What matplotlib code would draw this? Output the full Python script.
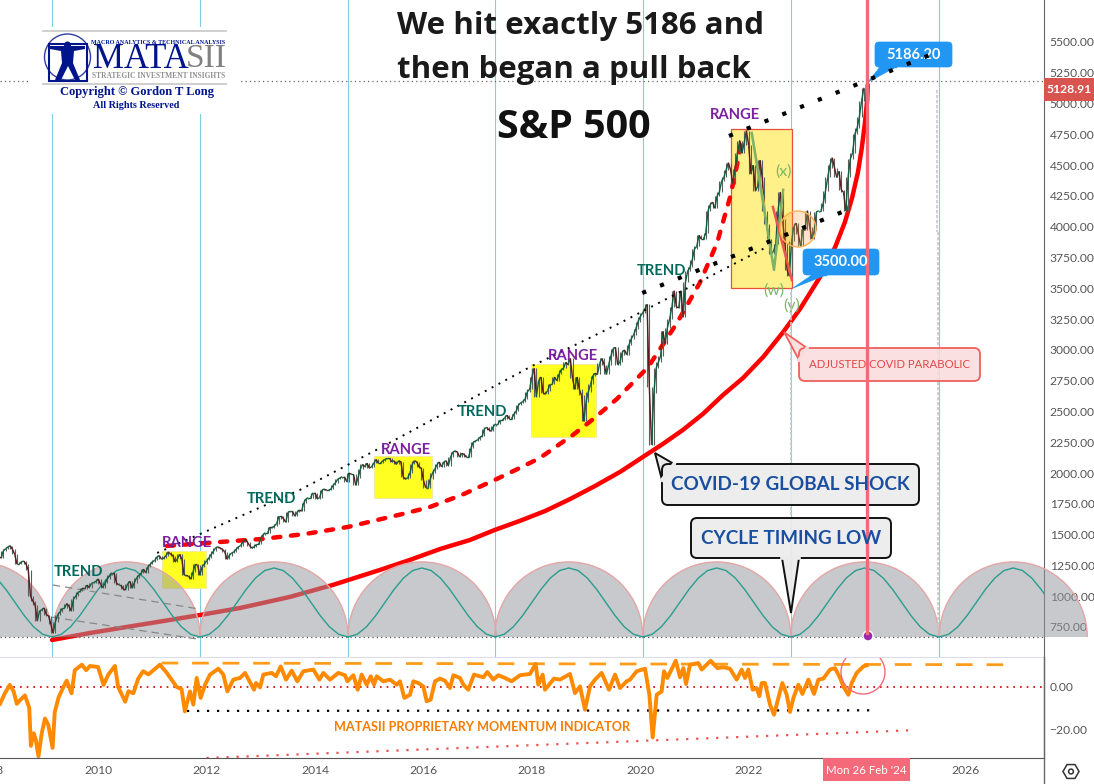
import matplotlib
matplotlib.use('Agg')
import matplotlib.pyplot as plt
from matplotlib.patches import Ellipse, Rectangle, Circle, Polygon, FancyBboxPatch, RegularPolygon
from matplotlib.collections import LineCollection
import numpy as np

# half-monthly S&P 500 closes, Mar 2008 to Feb 2024
closes = [
    1320,1310,1370,1385,1400,1410,1380,1340,1260,1260,1280,1285,1260,1210,1000,960,930,800,880,890,
    905,850,840,770,700,790,850,870,900,900,940,920,880,975,1000,1030,1040,1065,1060,1090,1070,1105,1110,1120,
    1140,1095,1070,1105,1140,1170,1190,1190,1110,1090,1090,1060,1050,1100,1120,1065,1110,1150,1170,1185,1220,1190,1240,1258,
    1280,1290,1320,1330,1300,1310,1330,1360,1340,1330,1280,1300,1340,1300,1170,1170,1160,1140,1200,1260,1250,1170,1240,1260,
    1290,1310,1340,1365,1395,1400,1390,1380,1360,1300,1330,1350,1360,1380,1400,1410,1440,1460,1440,1410,1390,1400,1420,1420,
    1470,1500,1515,1515,1560,1555,1570,1590,1650,1650,1630,1600,1680,1690,1690,1650,1680,1700,1690,1760,1790,1800,1800,1840,
    1840,1790,1800,1860,1870,1860,1860,1870,1900,1920,1950,1960,1970,1970,1930,2000,1990,1990,1900,1960,2030,2070,2050,2080,
    2040,2050,2080,2110,2080,2080,2100,2110,2120,2120,2090,2100,2070,2100,2090,1970,1950,1960,2000,2070,2100,2090,2050,2040,
    1940,1880,1880,1950,2000,2030,2070,2090,2050,2090,2100,2060,2130,2170,2180,2170,2130,2160,2150,2130,2130,2200,2250,2260,
    2270,2290,2300,2360,2370,2350,2340,2380,2400,2400,2430,2430,2450,2470,2440,2440,2480,2500,2550,2570,2580,2600,2660,2680,
    2780,2850,2620,2750,2780,2650,2640,2670,2720,2720,2780,2750,2800,2840,2850,2900,2880,2930,2770,2680,2780,2680,2630,2420,
    2580,2660,2720,2790,2810,2800,2890,2930,2880,2800,2880,2950,3010,3020,2880,2900,2980,3000,2960,3040,3090,3120,3170,3230,
    3270,3300,3330,3370,2700,2230,2650,2850,2900,2950,3150,3050,3180,3250,3350,3480,3350,3340,3480,3270,3550,3640,3670,3730,
    3820,3840,3930,3900,3900,3950,4130,4180,4200,4150,4250,4280,4370,4400,4460,4520,4460,4350,4470,4600,4700,4600,4680,4780,
    4660,4430,4500,4290,4330,4540,4400,4130,4020,3900,3780,3800,3860,4130,4280,4060,3870,3650,3600,3880,4000,4030,3940,3840,
    3980,3970,4130,4000,3900,3970,4120,4130,4130,4190,4290,4400,4500,4560,4480,4400,4450,4300,4280,4130,4400,4550,4600,4750,
    4800,4890,5020,5128,
]
close_start = 2008.17
closes_per_year = 24

mom_years = [
    2008.19,2008.28,2008.37,2008.44,2008.50,2008.57,2008.65,2008.73,2008.76,2008.81,2008.85,2008.90,2008.96,2009.02,2009.08,2009.16,
    2009.20,2009.27,2009.36,2009.42,2009.51,2009.57,2009.70,2009.78,2009.85,2010.00,2010.10,2010.19,2010.31,2010.37,2010.50,2010.56,
    2010.65,2010.74,2010.83,2010.93,2011.14,2011.26,2011.45,2011.54,2011.60,
    2011.696,2011.757,2011.819,2011.893,2011.973,2012.065,2012.219,2012.311,2012.385,2012.495,2012.619,2012.711,2012.877,2012.914,2012.988,
    2013.049,2013.203,2013.283,2013.369,2013.467,2013.572,2013.676,2013.787,2013.972,2014.082,2014.156,2014.279,2014.433,2014.556,2014.599,
    2014.710,2014.79,2014.863,2014.956,2015.03,2015.091,2015.14,2015.263,2015.386,2015.509,2015.571,2015.65,2015.755,
    2015.816,2015.908,2016.0,2016.062,2016.136,2016.216,2016.308,2016.4,2016.493,2016.554,2016.677,2016.739,2016.831,2016.935,
    2017.108,2017.181,2017.292,2017.384,2017.507,2017.63,2017.784,2017.968,2018.073,2018.122,2018.202,2018.245,2018.411,2018.522,
    2018.706,2018.799,2018.891,2018.983,2019.076,2019.168,2019.291,2019.426,2019.537,2019.629,2019.752,
    2019.814,2019.937,2020.091,2020.171,2020.232,2020.306,2020.398,2020.441,2020.503,2020.657,2020.737,2020.798,2020.847,2020.921,
    2021.075,2021.136,2021.302,2021.425,2021.536,2021.659,2021.782,2021.874,2021.936,2021.997,2022.077,2022.151,2022.2,2022.243,
    2022.305,2022.397,2022.471,2022.551,2022.625,2022.705,2022.766,2022.828,2022.92,2022.994,2023.104,2023.209,2023.289,2023.381,
    2023.504,2023.596,2023.689,2023.75,2023.842,2023.904,2023.996,2024.119,2024.18,
]
mom_values = [
    -8,-3,1,-2,-8,-6,-4,-10,-28,-22,-25,-33,-22,-15,-18,-29,
    -12,-5,0,3,-3,8,10.6,8,10,9.5,1,6,10,0,-7,-2,
    -3,4,7.5,6,10.6,7,0,-1,-11.6,
    -2.1,-8.4,4.3,-5.2,1.1,5.9,8.7,5.9,-2.1,3.5,4.3,6.7,-1.3,1.9,-0.2,
    5.9,6.7,5.1,9.8,3.5,7.8,2.7,7.5,8.3,3.5,6.7,3.5,6.7,5.6,2.7,
    5.6,-1.3,5.9,1.1,5.1,1.1,5.1,2.7,3.5,1.1,2.7,-5.2,-3.7,
    2.7,1.9,0.3,-6.8,-6,2.7,4,3,-0.5,5.6,4.3,1.1,-1.3,5.9,
    4.6,7.1,3.5,5.6,4.3,2.7,5.6,6.2,11,1.1,5.9,-1.3,4,3.5,
    6.2,-2.9,0.3,-10.8,0.3,3.5,6.7,-1.3,5.9,-0.5,2.7,
    3.5,7.5,8.7,-3.7,-24,-3.7,-2.1,7.5,4.3,12.5,4.6,9,1.4,10.6,
    11.4,8.3,12.5,9,9.4,8.7,3.5,8.3,4.3,8.3,-1.3,-0.5,-4.4,1.9,
    1.9,-8.4,-13.2,-5.2,1.9,-3.7,-11.9,-5.2,1.1,-3.3,3.5,-3.3,3.5,4,
    8.3,9,4.3,0.3,-3.7,1.9,6.7,9.8,10.3,
]

cycle_lows = [2006.42, 2009.15, 2011.88, 2014.61, 2017.32, 2020.05, 2022.78, 2025.52]
cycle_base = 669
dome_top = 1278
# one cycle of the teal wave, read at 1/16 steps
wave_shape = [669,690,751,842,949,1056,1147,1208,1229,1208,1147,1056,949,842,751,690,669]

parabola_years = [2009.15,2009.85,2010.64,2011.33,2011.88,2012.62,2013.54,2014.33,2015.2,2015.75,2016.31,2016.86,2017.32,2017.78,
                  2018.25,2018.71,2019.17,2019.63,2020.05,2020.42,2020.79,2021.16,2021.53,2021.9,2022.27,2022.64,2022.95,
                  2023.32,2023.6,2023.78,2023.91,2024.02,2024.09,2024.15,2024.19,2024.2]
parabola_values = [644,701,758,807,847,904,994,1091,1213,1294,1383,1456,1538,1611,
                   1692,1789,1895,2009,2130,2236,2350,2480,2634,2772,2942,3145,3332,
                   3592,3836,4039,4233,4444,4639,4851,5029,5151]
dashed_years = [2011.27,2012.25,2013.04,2013.82,2014.61,2015.7,2016.12,2016.71,2017.32,2017.78,2018.15,2018.52,2018.76,2019.16,2019.57,2020.15,2020.68,2021.1,2021.42,2021.66,2021.9]
dashed_values = [1408,1440,1465,1505,1562,1676,1724,1822,1944,2041,2122,2236,2309,2447,2601,2861,3218,3543,3868,4241,4729]
trend_years = [2011.09,2013.72,2015.2,2017.97,2019.63,2022.34]
trend_values = [1351,1862,2203,2861,3218,3836]
channel_low_years = [2020.04,2023.73]
channel_low_values = [3462,4120]
channel_high_years = [2021.64,2025.35]
channel_high_values = [4737,5395]

range_boxes = [(2011.17,2011.985,1069,1367),(2015.09,2016.16,1797,2138),(2017.99,2019.19,2293,2886)]
range_box_big = (2021.68,2022.80,3503,4794)

price_ticks = [5500,5250,5000,4750,4500,4250,4000,3750,3500,3250,3000,2750,2500,2250,2000,1750,1500,1250,1000,750]
year_ticks = [2008,2010,2012,2014,2016,2018,2020,2022,2024,2026]
mom_ticks = [0,-20]

W, H = 1094, 784
XMIN, XMAX = 2008.19, 2008.19 + 1044 / 54.2
plt.rcParams['font.family'] = ['Lato', 'DejaVu Sans']

fig = plt.figure(figsize=(W / 100, H / 100), dpi=100)
ax = fig.add_axes([0, (H - 657) / H, 1044 / W, 657 / H])
ind = fig.add_axes([0, (H - 758) / H, 1044 / W, 100 / H])
top = fig.add_axes([0, 0, 1, 1], facecolor='none')
top.set_xlim(0, W)
top.set_ylim(H, 0)
top.axis('off')

ax.set_xlim(XMIN, XMAX)
ax.set_ylim(506, 5841)
ind.set_xlim(XMIN, XMAX)
ind.set_ylim(-33.8, 13.8)

tick_col = '#555555'
for a in (ax, ind):
    a.yaxis.tick_right()
    a.set_xticks([])
    a.tick_params(axis='y', length=0, pad=4, labelsize=8.7, labelcolor=tick_col)
    a.spines['left'].set_visible(False)
    a.spines['top'].set_visible(False)
    a.spines['right'].set_color('#666666')
ax.spines['bottom'].set_color('#dcdce8')
ind.spines['bottom'].set_color('#555555')
ax.set_yticks(price_ticks)
ax.set_yticklabels(['%.2f' % v for v in price_ticks])
ind.set_yticks(mom_ticks)
ind.set_yticklabels(['0.00', '\u221220.00'])

for y in year_ticks:
    ind.text(y, -0.13, str(y), transform=ind.get_xaxis_transform(), ha='center', va='center',
             fontsize=8.7, color=tick_col, clip_on=False)

# cycle verticals
for lo in cycle_lows[1:]:
    ax.axvline(lo, color='#7fd0dc', lw=0.8, zorder=1)

# range boxes
for x0, x1, y0, y1 in range_boxes:
    ax.add_patch(Rectangle((x0, y0), x1 - x0, y1 - y0, fc='#ffff22', ec='#f5e6a0', lw=0.6, zorder=1.5))
x0, x1, y0, y1 = range_box_big
ax.add_patch(Rectangle((x0, y0), x1 - x0, y1 - y0, fc='#fff08a', ec='#e8503a', lw=0.9, zorder=1.5))

# parabolas
ax.plot(parabola_years, parabola_values, color='#ff0000', lw=3.2, zorder=2, solid_capstyle='round', solid_joinstyle='round')
ax.plot(dashed_years, dashed_values, color='#ff0000', lw=3.2, ls=(0, (1.6, 2.4)), dash_capstyle='round', zorder=2)

# domes and wave
period = cycle_lows[2] - cycle_lows[1]
clip = Rectangle((XMIN - 5, cycle_base), 30, 4000, transform=ax.transData)
for lo in cycle_lows:
    e = Ellipse((lo + period / 2, cycle_base), period, 2 * (dome_top - cycle_base),
                fc=(0.59, 0.6, 0.635, 0.53), ec='#e4a6a6', lw=1, zorder=3)
    ax.add_patch(e)
    e.set_clip_path(clip)
    xs = lo + np.arange(len(wave_shape)) / (len(wave_shape) - 1) * period
    ax.plot(xs, wave_shape, color='#2a9d8f', lw=1.0, zorder=3.2)

# level lines
ax.axhline(cycle_base, color='#555555', lw=0.9, ls=(0, (1, 2.5)), zorder=3.1)
ax.axhline(5183, color='#666666', lw=0.9, ls=(0, (1, 2.5)), zorder=1)
ax.plot([2009.16, 2011.86], [1091, 896], color='#888888', lw=0.9, ls=(0, (6, 4)), zorder=3.3)
ax.plot([2009.16, 2011.86], [829, 650], color='#888888', lw=0.9, ls=(0, (6, 4)), zorder=3.3)

# price, drawn as thin up/down strokes with wicks
close_years = close_start + np.arange(len(closes)) / closes_per_year
c = np.array(closes, dtype=float)
lows = np.minimum(np.minimum(c, np.r_[c[0], c[:-1]]), np.r_[c[1:], c[-1]])
highs = np.maximum(np.maximum(c, np.r_[c[0], c[:-1]]), np.r_[c[1:], c[-1]])
ax.vlines(close_years, lows, highs, color='#5a5f60', lw=0.8, zorder=4)
segs = np.stack([np.c_[close_years[:-1], c[:-1]], np.c_[close_years[1:], c[1:]]], axis=1)
cols = ['#0c5f3c' if b >= a else '#5c1a1a' for a, b in zip(c[:-1], c[1:])]
ax.add_collection(LineCollection(segs, colors=cols, lw=1.0, zorder=4.2))

# trend lines
ax.plot(trend_years, trend_values, color='black', lw=1.4, ls=(0, (1, 3)), zorder=5)
top.plot(channel_low_years, channel_low_values, color='black', lw=3, ls=(0, (1, 3.6)), zorder=6.5, transform=ax.transData)
top.plot(channel_high_years, channel_high_values, color='black', lw=3, ls=(0, (1, 3.6)), zorder=6.5, transform=ax.transData)

# wave count
ax.plot([2022.06, 2022.47, 2022.64], [4761, 3649, 4300], color='#7cb368', lw=1.8, zorder=5)
ax.plot([2022.45, 2022.8], [4160, 3567], color='#ef5350', lw=1.8, zorder=5)
ax.plot([2022.06, 2022.3], [4761, 4150], color='#f5b942', lw=1.5, zorder=4.9)

# indicator
ind.axhline(0, color='#cc0000', lw=1.2, ls=(0, (1, 3)))
ind.plot(mom_years, mom_values, color='#ff8a00', lw=2.8, zorder=3)
ind.plot([2011.17, 2026.75], [11.4, 10.6], color='#ff9d1a', lw=2, ls=(0, (6, 5)), zorder=2)
ind.plot([2011.64, 2024.3], [-11.4, -11.1], color='black', lw=1.6, ls=(0, (1, 3.5)), zorder=2)
ind.plot([2012.0, 2025.0], [-33.8, -20.6], color='#f05050', lw=1.6, ls=(0, (1, 3.5)), zorder=2)

# --- annotations, in pixel coordinates on the overlay ---
title_font = ['Open Sans', 'DejaVu Sans']
top.text(397, 26, 'We hit exactly 5186 and', fontsize=22.5, fontweight='bold', family=title_font, color='#1a1a1a', va='center')
top.text(397, 70, 'then began a pull back', fontsize=22.5, fontweight='bold', family=title_font, color='#1a1a1a', va='center')
top.text(574, 127, 'S&P 500', fontsize=28.4, fontweight='bold', family=title_font, color='#111111', va='center', ha='center')

for x, y, s in [(187, 543, 'RANGE'), (406, 450, 'RANGE'), (573, 356, 'RANGE'), (735, 115, 'RANGE')]:
    top.text(x, y, s, color='#7b1fa2', fontsize=10.6, ha='center', va='center', fontweight='bold')
for x, y, s in [(78, 572, 'TREND'), (271, 499, 'TREND'), (482, 412, 'TREND'), (661, 271, 'TREND')]:
    top.text(x, y, s, color='#00695c', fontsize=10.6, ha='center', va='center', fontweight='bold')
for x, y, s in [(783, 172, '(x)'), (774, 291, '(w)'), (792, 305, '(y)')]:
    top.text(x, y, s, color='#7cb368', fontsize=11.5, ha='center', va='center')
top.text(482, 727, 'MATASII PROPRIETARY MOMENTUM INDICATOR', color='#f57c00', fontsize=9.1,
         ha='center', va='center', fontweight='bold')

def callout(box, tail, fc, ec, lw, text, tcol, size, weight='bold', rad=4):
    x0, y0, x1, y1 = box
    top.add_patch(Polygon(tail, closed=True, fc=fc, ec=ec, lw=lw, zorder=6))
    top.add_patch(FancyBboxPatch((x0 + rad, y0 + rad), x1 - x0 - 2 * rad, y1 - y0 - 2 * rad,
                                 boxstyle='round,pad=%d,rounding_size=%d' % (rad, rad),
                                 fc=fc, ec=ec, lw=lw, zorder=6.1))
    top.plot([tail[0][0], tail[-1][0]], [tail[0][1], tail[-1][1]], color=fc[:3] if len(fc) == 4 else fc, lw=lw + 1.2, zorder=6.15)
    top.text((x0 + x1) / 2, (y0 + y1) / 2, text, color=tcol, fontsize=size, fontweight=weight,
             ha='center', va='center', zorder=6.4)

callout((875, 42, 952, 67), [(880, 67), (868, 82), (896, 67)], '#2196f3', '#2196f3', 0.5, '5186.20', 'white', 10.5)
callout((803, 249, 879, 275), [(812, 275), (793, 288), (826, 275)], '#2196f3', '#2196f3', 0.5, '3500.00', 'white', 10.5)
callout((799, 348, 980, 381), [(799, 360), (784, 332), (807, 348)], (0.98, 0.86, 0.86, 0.85), '#f0605a', 1.3,
        'ADJUSTED COVID PARABOLIC', '#e04848', 8.2, weight='normal', rad=6)
callout((662, 464, 919, 505), [(662, 480), (655, 453), (674, 464)], (0.92, 0.92, 0.92, 0.9), '#111111', 1.4,
        'COVID-19 GLOBAL SHOCK', '#1a4fa0', 13.6, rad=6)
callout((691, 518, 891, 558), [(782, 558), (791, 613), (799, 558)], (0.92, 0.92, 0.92, 0.9), '#111111', 1.4,
        'CYCLE TIMING LOW', '#1a4fa0', 13.6, rad=6)

# vertical date marker
top.plot([866.5, 866.5], [0, 633], color='#f26a78', lw=2.4, zorder=6.2)
top.add_patch(Circle((868, 636), 5, fc='#9c27b0', ec='white', lw=1, zorder=5.5))
top.plot([937, 937], [90, 232], color='#c8c8c8', lw=1.2, ls=(0, (2, 1)), zorder=5)
top.plot([938, 938], [232, 632], color='#c8c8c8', lw=1.2, ls=(0, (2, 1)), zorder=5)
top.plot([791, 791], [292, 612], color='#c8c8c8', lw=1.2, ls=(0, (2, 1)), zorder=5)

# circles
top.add_patch(Circle((798, 229), 18, fc=(1, 0.6, 0.2, 0.25), ec='#ffb050', lw=1, zorder=5))
ring = Circle((863, 672), 22, fc='none', ec='#f26a78', lw=1, zorder=5)
top.add_patch(ring)
ring.set_clip_path(Rectangle((830, 658), 70, 60, transform=top.transData))

# price and date tags
top.add_patch(Rectangle((1044, 78), 50, 23, fc='#d9534f', ec='none', zorder=7))
top.text(1069, 89.5, '5128.91', color='white', fontsize=8.7, fontweight='bold', ha='center', va='center', zorder=7.1)
top.add_patch(Rectangle((823, 758), 87, 23, fc='#f56a7a', ec='none', zorder=7))
top.text(866.5, 771, "Mon 26 Feb '24", color='white', fontsize=8.3, ha='center', va='center', zorder=7.1)
top.plot([1044, 1044], [657, 784], color='#666666', lw=1, zorder=7)
top.add_patch(RegularPolygon((1071, 771.5), 6, radius=8, fc='white', ec='#333333', lw=1.1, zorder=7, orientation=np.pi / 6))
top.add_patch(Circle((1071, 771.5), 2.4, fc='white', ec='#333333', lw=1.1, zorder=7.1))

# logo
serif = ['Liberation Serif', 'DejaVu Serif']
navy = '#00148c'
top.add_patch(Rectangle((31, 27), 209, 87, fc='white', ec='none', zorder=8))
top.plot([43, 226], [30.5, 30.5], color='#cccccc', lw=1.3, zorder=8.1)
top.plot([43, 226], [84, 84], color='#cccccc', lw=1.3, zorder=8.1)
top.add_patch(Circle((67.5, 57), 23, fc='none', ec='#303f9f', lw=1, zorder=8.1))
top.add_patch(Rectangle((49, 44), 38, 37, fc='none', ec=navy, lw=1.5, zorder=8.1))
top.add_patch(Polygon([(50, 46), (85, 46), (85, 49), (74, 51), (73, 63), (80, 80), (75, 80), (68, 66),
                       (61, 80), (55, 80), (62, 63), (61, 51), (50, 49)], closed=True, fc=navy, ec='none', zorder=8.2))
top.add_patch(Circle((67.5, 45), 3.5, fc=navy, ec='none', zorder=8.2))
top.text(158.5, 42, 'MACRO ANALYTICS & TECHNICAL ANALYSIS', family=serif, fontweight='bold', color=navy,
         fontsize=4.35, ha='center', va='center', zorder=8.2)
top.text(93, 59, 'MATA', family=serif, color=navy, fontsize=25, ha='left', va='center', zorder=8.2)
top.text(186, 59, 'SII', family=serif, color='#808080', fontsize=24, ha='left', va='center', zorder=8.2)
top.text(158.5, 75.5, 'STRATEGIC INVESTMENT INSIGHTS', family=serif, fontweight='bold', color='#909090',
         fontsize=5.45, ha='center', va='center', zorder=8.2)
top.text(137, 91.5, 'Copyright \u00a9 Gordon T Long', family=serif, fontweight='bold', color=navy,
         fontsize=9, ha='center', va='center', zorder=8.2)
top.text(136, 105, 'All Rights Reserved', family=serif, fontweight='bold', color=navy,
         fontsize=7.3, ha='center', va='center', zorder=8.2)

fig.savefig('out.png', dpi=100)
